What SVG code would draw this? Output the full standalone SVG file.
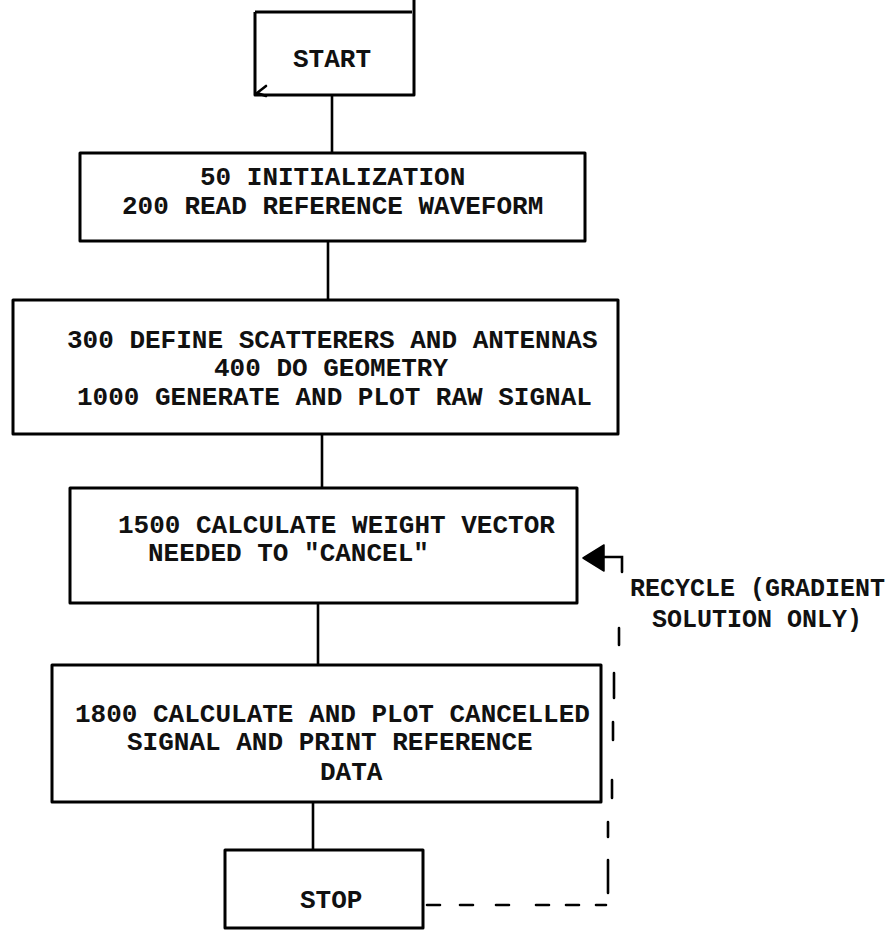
<svg xmlns="http://www.w3.org/2000/svg" width="894" height="932" viewBox="0 0 894 932">
  <style>
    .box { fill: #fff; stroke: #000; stroke-width: 3; stroke-linejoin: round; }
    .ln { fill: none; stroke: #000; stroke-width: 2.6; stroke-linecap: round; }
    .txt { font-family: "Liberation Mono", "Courier New", monospace; font-size: 26px; font-weight: bold; fill: #111; }
    .lbl { font-size: 25px; }
  </style>
  <rect width="894" height="932" fill="#fff"/>

  <g id="connectors">
    <path class="ln" d="M332 95 V153"/>
    <path class="ln" d="M328 241 V300"/>
    <path class="ln" d="M322 434 V488"/>
    <path class="ln" d="M318 603 V665"/>
    <path class="ln" d="M313 802 V850"/>
    <!-- recycle loop: dashed return from STOP back to the weight-vector step -->
    <path class="ln" d="M427 905 H440 M460 905 H473 M496 905 H509 M536 905 H549 M566 905 H579 M596 905 H606
                         M608 893 V860 M608 837 V822 M612 798 V780 M613 740 V722 M614 698 V673 M619 645 V628"/>
    <path class="ln" d="M601 557 H622 V572"/>
    <polygon points="583,558 604,545 604,571" fill="#000" stroke="#000" stroke-width="1.5" stroke-linejoin="round"/>
  </g>

  <g id="start">
    <path class="box" d="M255 12 H412 M414 0 V95 H255 V12"/>
    <path class="ln" d="M266 86 L257 93 L266 96"/>
    <text class="txt" x="293" y="67">START</text>
  </g>

  <g id="init">
    <rect class="box" x="80" y="153" width="505" height="88"/>
    <text class="txt" x="200" y="185">50 INITIALIZATION</text>
    <text class="txt" x="122" y="214">200 READ REFERENCE WAVEFORM</text>
  </g>

  <g id="geometry">
    <rect class="box" x="13" y="300" width="605" height="134"/>
    <text class="txt" x="67" y="348">300 DEFINE SCATTERERS AND ANTENNAS</text>
    <text class="txt" x="214" y="376">400 DO GEOMETRY</text>
    <text class="txt" x="77" y="405">1000 GENERATE AND PLOT RAW SIGNAL</text>
  </g>

  <g id="weights">
    <rect class="box" x="70" y="488" width="507" height="115"/>
    <text class="txt" x="118" y="533">1500 CALCULATE WEIGHT VECTOR</text>
    <text class="txt" x="148" y="561">NEEDED TO "CANCEL"</text>
  </g>

  <g id="cancel">
    <rect class="box" x="52" y="665" width="549" height="137"/>
    <text class="txt" x="75" y="722">1800 CALCULATE AND PLOT CANCELLED</text>
    <text class="txt" x="127" y="750">SIGNAL AND PRINT REFERENCE</text>
    <text class="txt" x="320" y="780">DATA</text>
  </g>

  <g id="stop">
    <rect class="box" x="225" y="850" width="198" height="78"/>
    <text class="txt" x="300" y="908">STOP</text>
  </g>

  <g id="recycle-label">
    <text class="txt lbl" x="630" y="596">RECYCLE (GRADIENT</text>
    <text class="txt lbl" x="652" y="627">SOLUTION ONLY)</text>
  </g>
</svg>
